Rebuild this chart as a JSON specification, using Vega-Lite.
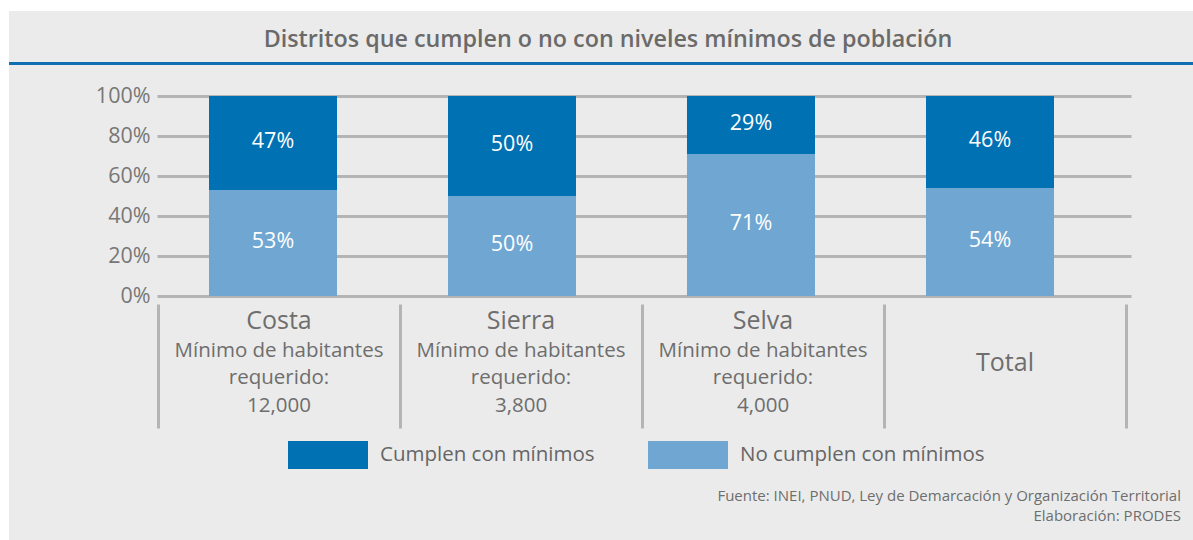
{
  "$schema": "https://vega.github.io/schema/vega-lite/v6.json",
  "background": "white",
  "padding": {"left": 9, "top": 11, "right": 0, "bottom": 0},
  "autosize": {"type": "pad"},
  "spacing": 0,
  "bounds": "flush",
  "config": {"view": {"stroke": null}, "font": "Open Sans", "concat": {"spacing": 0}},
  "resolve": {"scale": {"color": "shared"}, "legend": {"color": "shared"}},
  "vconcat": [
    {
      "width": 1184,
      "height": 51,
      "view": {"fill": "#ebebeb", "stroke": null},
      "data": {"values": [{"titulo": "Distritos que cumplen o no con niveles mínimos de población"}]},
      "mark": {"type": "text", "font": "Open Sans", "fontSize": 23.3, "fontWeight": 600, "color": "#6a6a6a", "align": "center", "baseline": "middle", "dx": 7, "dy": 3},
      "encoding": {"text": {"field": "titulo"}}
    },
    {
      "width": 1184,
      "height": 3,
      "view": {"fill": "#0f6fb3", "stroke": null},
      "data": {"values": [{"t": ""}]},
      "mark": {"type": "text"},
      "encoding": {"text": {"field": "t"}}
    },
    {
      "width": 1184,
      "height": 239,
      "view": {"fill": "#ebebeb", "stroke": null},
      "data": {"values": [
        {"region": "Costa", "serie": "Cumplen con mínimos", "valor": 0.47},
        {"region": "Costa", "serie": "No cumplen con mínimos", "valor": 0.53},
        {"region": "Sierra", "serie": "Cumplen con mínimos", "valor": 0.50},
        {"region": "Sierra", "serie": "No cumplen con mínimos", "valor": 0.50},
        {"region": "Selva", "serie": "Cumplen con mínimos", "valor": 0.29},
        {"region": "Selva", "serie": "No cumplen con mínimos", "valor": 0.71},
        {"region": "Total", "serie": "Cumplen con mínimos", "valor": 0.46},
        {"region": "Total", "serie": "No cumplen con mínimos", "valor": 0.54}
      ]},
      "encoding": {
        "x": {"field": "region", "type": "nominal", "sort": ["Costa", "Sierra", "Selva", "Total"], "axis": null,
              "scale": {"range": [200, 1045], "paddingInner": 0.4644, "paddingOuter": 0}},
        "y": {"field": "valor", "type": "quantitative", "stack": "normalize",
              "scale": {"domain": [0, 1], "range": [231, 31], "nice": false},
              "axis": {"orient": "left", "offset": -1122, "values": [0, 0.2, 0.4, 0.6, 0.8, 1], "format": ".0%",
                       "tickSize": 974, "tickColor": "#b4b4b4", "tickWidth": 3, "domain": false, "grid": false,
                       "labelPadding": 7, "labelFont": "Open Sans", "labelFontSize": 21.5, "labelColor": "#777777", "title": null}},
        "order": {"field": "serie", "sort": "descending"}
      },
      "layer": [
        {
          "mark": {"type": "bar"},
          "encoding": {
            "color": {"field": "serie", "type": "nominal",
                      "scale": {"domain": ["Cumplen con mínimos", "No cumplen con mínimos"], "range": ["#0071b2", "#6fa7d2"]},
                      "legend": {"orient": "none", "legendX": 279, "legendY": 404, "direction": "horizontal", "title": null,
                                 "symbolType": "M-1,-0.35L1,-0.35L1,0.35L-1,0.35Z", "symbolSize": 6400, "symbolStrokeWidth": 0,
                                 "symbolOpacity": 1, "labelFont": "Open Sans", "labelFontSize": 20.5, "labelColor": "#666666",
                                 "labelLimit": 0, "labelOffset": 12, "columnPadding": 53, "padding": 0}}
          }
        },
        {
          "mark": {"type": "text", "color": "white", "fontSize": 21.5, "font": "Open Sans", "baseline": "middle", "align": "center", "dy": -1},
          "encoding": {
            "y": {"field": "valor", "type": "quantitative", "stack": "normalize", "bandPosition": 0.5},
            "detail": {"field": "serie"},
            "text": {"field": "valor", "type": "quantitative", "format": ".0%"}
          }
        }
      ]
    },
    {
      "width": 1184,
      "height": 176,
      "view": {"fill": "#ebebeb", "stroke": null},
      "data": {"values": [
        {"region": "Costa", "linea": 1, "tipo": "nombre", "texto": "Costa"},
        {"region": "Costa", "linea": 2, "tipo": "detalle", "texto": "Mínimo de habitantes"},
        {"region": "Costa", "linea": 3, "tipo": "detalle", "texto": "requerido:"},
        {"region": "Costa", "linea": 4, "tipo": "detalle", "texto": "12,000"},
        {"region": "Sierra", "linea": 1, "tipo": "nombre", "texto": "Sierra"},
        {"region": "Sierra", "linea": 2, "tipo": "detalle", "texto": "Mínimo de habitantes"},
        {"region": "Sierra", "linea": 3, "tipo": "detalle", "texto": "requerido:"},
        {"region": "Sierra", "linea": 4, "tipo": "detalle", "texto": "3,800"},
        {"region": "Selva", "linea": 1, "tipo": "nombre", "texto": "Selva"},
        {"region": "Selva", "linea": 2, "tipo": "detalle", "texto": "Mínimo de habitantes"},
        {"region": "Selva", "linea": 3, "tipo": "detalle", "texto": "requerido:"},
        {"region": "Selva", "linea": 4, "tipo": "detalle", "texto": "4,000"},
        {"region": "Total", "linea": 2.5, "tipo": "nombre", "texto": "Total"}
      ]},
      "encoding": {
        "x": {"field": "region", "type": "nominal", "sort": ["Costa", "Sierra", "Selva", "Total"],
              "scale": {"range": [149, 1117], "paddingInner": 0, "paddingOuter": 0},
              "axis": {"orient": "top", "offset": -124, "tickBand": "extent", "tickSize": 124, "tickWidth": 3,
                       "tickColor": "#b4b4b4", "labels": false, "domain": false, "grid": false, "title": null}},
        "y": {"field": "linea", "type": "quantitative", "axis": null,
              "scale": {"domain": [1, 4], "range": [25.3, 107.7], "zero": false, "nice": false}},
        "text": {"field": "texto"}
      },
      "layer": [
        {
          "transform": [{"filter": "datum.tipo === 'nombre'"}],
          "mark": {"type": "text", "font": "Open Sans", "fontSize": 25, "color": "#6e6e6e", "align": "center", "baseline": "alphabetic"}
        },
        {
          "transform": [{"filter": "datum.tipo === 'detalle'"}],
          "mark": {"type": "text", "font": "Open Sans", "fontSize": 20.5, "color": "#6e6e6e", "align": "center", "baseline": "alphabetic"}
        }
      ]
    },
    {
      "width": 1184,
      "height": 60,
      "view": {"fill": "#ebebeb", "stroke": null},
      "data": {"values": [{"nota": "Fuente: INEI, PNUD, Ley de Demarcación y Organización Territorial\nElaboración: PRODES"}]},
      "mark": {"type": "text", "font": "Open Sans", "fontSize": 15, "color": "#6e6e6e", "align": "right", "baseline": "alphabetic",
               "lineBreak": "\n", "lineHeight": 20, "dx": 580, "dy": -9},
      "encoding": {"text": {"field": "nota"}}
    }
  ]
}
